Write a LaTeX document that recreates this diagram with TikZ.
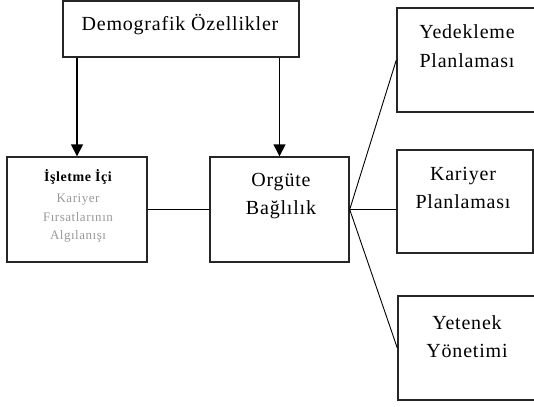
\documentclass[tikz,border=0pt]{standalone}
\usepackage{fontspec}
\setmainfont[LetterSpace=4]{Liberation Serif}
\usetikzlibrary{arrows.meta}
\usetikzlibrary{positioning}

\begin{document}
\begin{tikzpicture}[x=1pt,y=-1pt,>={Triangle[length=12pt,width=12pt]},
    box node/.style={rectangle,draw=black!85,line width=1.4pt,inner sep=0pt},
    big text/.style={font=\fontsize{20}{28.5}\selectfont,align=center,inner sep=0pt},
    title text/.style={font=\bfseries\fontsize{14}{16}\selectfont,inner sep=0pt},
    small text/.style={font=\fontsize{13}{18.5}\selectfont,align=center,inner sep=0pt,text=black!40}]
    \useasboundingbox (0,0) rectangle (534,406);
    \begin{scope}
      % boxes
      \node[box node,minimum width=236pt,minimum height=56pt] (demo) at (181,29) {};
      \node[box node,minimum width=140pt,minimum height=105pt] (isletme) at (77,209.5) {};
      \node[box node,minimum width=139pt,minimum height=105pt] (orgut) at (279.5,209.5) {};
      \node[box node,minimum width=141pt,minimum height=104pt] (yedek) at (467.5,60) {};
      \node[box node,minimum width=136pt,minimum height=103pt] (kariyer) at (465,201.5) {};
      \node[box node,minimum width=140pt,minimum height=104pt] (yetenek) at (468,348) {};
      % texts
      \node[big text] (demo text) at (180,25) {Demografik Özellikler};
      \node[title text] (isletme title) at (78,177) {İşletme İçi};
      \node[small text] (isletme text) at (78,218.5) {Kariyer\\Fırsatlarının\\Algılanışı};
      \node[big text] (orgut text) at (281,196) {Orgüte\\Bağlılık};
      \node[big text] (yedek text) at (467,46) {Yedekleme\\Planlaması};
      \node[big text] (kariyer text) at (463,188) {Kariyer\\Planlaması};
      \node[big text] (yetenek text) at (467,336.5) {Yetenek\\Yönetimi};
      % connectors
      \draw[->,line width=1.6pt] (isletme.north |- demo.south) -- (isletme.north);
      \draw[->,line width=1.6pt] (orgut.north |- demo.south) -- (orgut.north);
      \path[-,line width=0.9pt] (isletme.east) edge (orgut.west);
      \path[-,line width=0.9pt] (orgut.east) edge (yedek.west);
      \path[-,line width=0.9pt] (orgut.east) edge (orgut.east -| kariyer.west);
      \path[-,line width=0.9pt] (orgut.east) edge (yetenek.west);
    \end{scope}
\end{tikzpicture}
\end{document}
